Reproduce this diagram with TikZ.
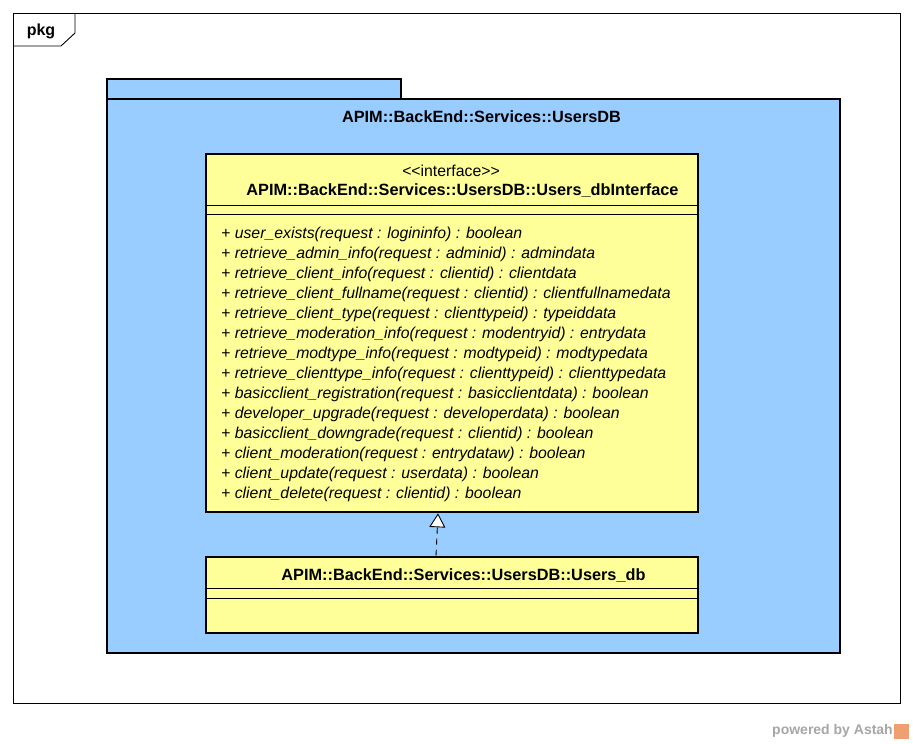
\documentclass[tikz,border=0pt]{standalone}
\usepackage{fontspec}
\setmainfont{Liberation Sans}
\usetikzlibrary{arrows.meta}

\definecolor{pkgblue}{HTML}{99CCFF}
\definecolor{classyellow}{HTML}{FFFF99}
\definecolor{astahgrey}{HTML}{A6A6A6}
\definecolor{astahorange}{HTML}{F0A070}

\tikzset{
  pkgframe/.style={draw,line width=0.9pt},
  pkgbox/.style={draw,line width=2.6pt,fill=pkgblue,inner sep=0pt},
  classbox/.style={draw,line width=2.6pt,fill=classyellow,inner sep=0pt},
  sep/.style={line width=0.9pt},
  realize/.style={dash pattern=on 6pt off 5pt,line width=0.9pt,
    -{Triangle[fill=white,width=16pt,length=14pt,line width=0.9pt]}},
  title/.style={font=\fontsize{16.3}{19}\selectfont\bfseries,inner sep=0pt},
}

\begin{document}
\begin{tikzpicture}[x=1pt,y=-1pt]
\useasboundingbox (0,0) rectangle (913,744);

% outer frame
\draw[pkgframe] (13,13) rectangle (900,703);
\draw[pkgframe] (13,46) -- (61,46) -- (75,33) -- (75,13);
\node[font=\fontsize{16}{19}\selectfont\bfseries] (frame) at (41,31) {pkg};

% package
\node[pkgbox,minimum width=294pt,minimum height=20pt] (tab) at (254,89) {};
\node[pkgbox,minimum width=733pt,minimum height=554pt] (pkg) at (473.5,376) {};
\node[title] (pkgname) at (481.5,117) {APIM::BackEnd::Services::UsersDB};

% interface class
\node[classbox,minimum width=492pt,minimum height=358pt] (iface) at (452,333) {};
\node[font=\fontsize{15.8}{19}\selectfont,inner sep=0pt] (stereo) at (451,171)
  {<\kern0pt<interface>\kern0pt>};
\node[title] (ifacename) at (462.5,191) {APIM::BackEnd::Services::UsersDB::Users\_dbInterface};
\draw[sep] (206,205) -- (698,205);
\draw[sep] (206,214) -- (698,214);
\node[anchor=north west,align=left,inner sep=0pt,
      font=\fontsize{15.8}{20}\selectfont\itshape] (ops) at (221,227) {%
+ user\_exists(request : logininfo) : boolean\\
+ retrieve\_admin\_info(request : adminid) : admindata\\
+ retrieve\_client\_info(request : clientid) : clientdata\\
+ retrieve\_client\_fullname(request : clientid) : clientfullnamedata\\
+ retrieve\_client\_type(request : clienttypeid) : typeiddata\\
+ retrieve\_moderation\_info(request : modentryid) : entrydata\\
+ retrieve\_modtype\_info(request : modtypeid) : modtypedata\\
+ retrieve\_clienttype\_info(request : clienttypeid) : clienttypedata\\
+ basicclient\_registration(request : basicclientdata) : boolean\\
+ developer\_upgrade(request : developerdata) : boolean\\
+ basicclient\_downgrade(request : clientid) : boolean\\
+ client\_moderation(request : entrydataw) : boolean\\
+ client\_update(request : userdata) : boolean\\
+ client\_delete(request : clientid) : boolean};

% implementing class
\node[classbox,minimum width=492pt,minimum height=76pt] (db) at (452,595) {};
\node[title] (dbname) at (463.5,576) {APIM::BackEnd::Services::UsersDB::Users\_db};
\draw[sep] (206,588) -- (698,588);
\draw[sep] (206,598) -- (698,598);

\draw[realize] ([xshift=-16pt]db.north) -- ([xshift=-14pt]iface.south);

% watermark
\node[anchor=east,inner sep=0pt,text=astahgrey,
      font=\fontsize{14}{16}\selectfont\bfseries] (powered) at (893,731) {powered by Astah};
\node[fill=astahorange,minimum size=15pt,inner sep=0pt] (logo) at (901.5,731) {};
\end{tikzpicture}
\end{document}
